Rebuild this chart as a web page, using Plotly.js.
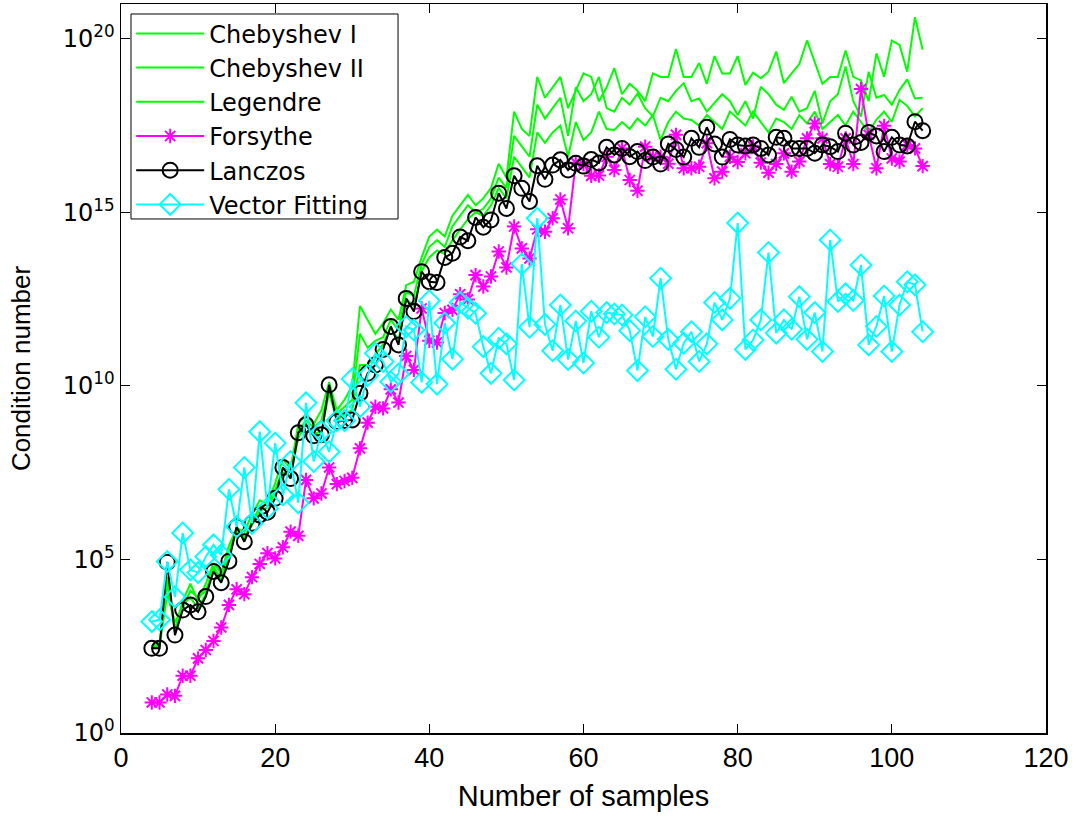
<!DOCTYPE html>
<html><head><meta charset="utf-8">
<script src="https://cdn.plot.ly/plotly-3.0.1.min.js"></script>
<style>html,body{margin:0;padding:0;background:#fff}#chart{width:1078px;height:817px}</style>
</head><body><div id="chart"></div>
<script>
// sample counts
const samplesStart = 4, samplesEnd = 104;
// log10(condition number), one value per sample count 4..104
const chebyshev1Log = [2.5,2.6,4.3,3.0,3.8,4.3,3.8,4.3,4.9,4.6,5.4,5.9,5.8,6.3,6.7,6.6,7.2,7.9,7.6,8.9,9.2,8.9,9.3,10.1,9.3,9.6,10.0,12.3,11.9,11.5,11.8,12.2,11.9,12.9,13.0,13.7,14.3,14.5,14.3,14.9,15.2,15.5,15.2,15.4,15.7,16.4,16.0,17.9,17.4,17.2,18.9,18.3,18.6,18.9,18.0,
 18.5,19.0,18.9,18.2,18.6,19.15,18.4,18.7,18.5,18.2,19.0,18.9,18.9,19.7,18.9,18.9,19.3,18.7,19.5,19.0,19.0,19.5,18.67,19.02,18.86,19.05,19.63,18.72,19.0,19.27,19.95,19.3,18.7,18.9,18.9,19.66,18.9,18.8,18.2,19.58,18.9,19.95,19.82,19.05,20.62,19.68];
const chebyshev2Log = [2.5,2.5,4.0,3.2,3.6,4.1,3.9,4.1,4.7,4.5,5.2,5.9,5.6,6.1,6.5,6.6,7.0,7.6,7.6,8.7,9.0,8.8,9.0,9.9,9.2,9.4,9.6,11.5,11.1,11.3,11.4,11.9,11.6,12.7,12.6,13.5,14.0,14.2,14.0,14.6,14.9,15.2,15.0,15.1,15.4,16.0,15.7,17.2,16.9,16.6,18.1,17.7,18.0,18.3,17.2,
 18.6,18.2,18.4,18.9,18.0,17.9,18.3,18.1,18.42,18.0,17.76,18.3,18.2,18.5,18.72,18.2,18.28,17.9,18.14,18.4,18.2,17.8,18.2,17.7,18.62,18.4,18.1,17.95,18.33,17.9,18.0,18.5,17.56,18.2,18.4,19.2,18.2,17.76,19.05,18.3,18.38,18.1,18.52,18.83,18.28,18.3];
const legendreLog = [2.45,2.5,4.5,2.9,3.7,3.9,3.6,4.0,4.8,4.4,5.1,5.8,5.6,6.0,6.4,6.5,6.9,7.5,7.4,8.5,8.9,8.6,8.7,9.8,9.0,9.2,9.3,10.6,10.6,10.9,11.2,11.7,11.3,12.5,12.3,13.3,13.7,13.9,13.8,14.2,14.5,14.8,15.0,14.9,15.2,15.7,15.4,16.6,16.3,16.0,17.3,17.0,17.3,17.5,16.6,
 17.6,17.08,17.3,17.9,17.4,17.37,17.6,17.4,17.7,17.5,17.8,17.08,17.6,17.9,17.7,17.66,17.5,17.8,17.6,17.4,17.9,17.7,17.5,17.9,17.6,17.3,17.7,17.6,17.4,17.8,17.56,17.9,17.4,17.6,17.8,17.5,17.9,17.6,17.3,17.67,17.9,17.6,18.24,18.06,17.76,18.0];
const forsytheLog = [0.88,0.88,1.11,1.07,1.65,1.65,2.15,2.39,2.65,3.04,3.69,4.14,4.00,4.49,4.87,5.18,5.03,5.35,5.80,5.68,7.29,6.76,6.90,7.65,7.17,7.26,7.35,8.20,8.94,9.40,9.35,9.90,9.52,10.86,10.46,12.23,11.30,11.25,12.10,12.19,12.64,12.49,13.19,12.86,13.15,13.87,13.41,14.59,13.96,13.67,14.51,14.44,14.83,15.37,14.54,
 16.43,16.39,16.05,16.06,16.60,16.22,16.84,15.93,15.62,16.89,16.60,16.60,16.40,17.23,16.27,16.27,16.31,16.99,15.98,16.17,16.60,16.45,16.70,16.90,16.43,16.14,16.39,16.70,16.17,16.46,17.13,17.56,17.13,16.39,16.31,17.13,16.39,18.55,17.23,16.27,17.49,16.55,16.46,16.94,16.84,16.33];
const lanczosLog = [2.44,2.44,4.92,2.82,3.54,3.69,3.49,3.93,4.65,4.33,4.95,5.94,5.51,6.04,6.28,6.36,6.76,7.65,7.33,8.65,8.88,8.56,8.59,10.03,8.97,9.00,9.02,9.79,10.36,10.60,11.05,11.71,11.18,12.52,12.14,13.29,13.00,12.98,13.70,13.82,14.29,14.18,14.85,14.57,14.78,15.55,15.11,16.05,15.69,15.31,16.34,15.95,16.36,16.51,16.22,
 16.41,16.33,16.52,16.42,16.87,16.65,16.84,16.60,16.75,16.49,16.59,16.39,16.97,16.81,16.59,17.13,16.87,17.45,16.97,16.59,17.10,16.94,16.91,16.94,16.84,16.65,17.16,17.13,16.84,16.84,16.84,16.70,16.94,16.89,16.75,17.28,16.94,17.01,17.30,17.20,16.75,17.16,16.94,16.91,17.61,17.35];
const vectorFittingLog = [3.21,3.26,4.94,3.92,5.76,4.70,4.62,5.08,5.42,5.13,7.02,5.94,7.65,6.04,8.68,6.47,8.35,6.86,7.82,6.63,9.51,7.82,8.68,8.10,9.00,9.00,10.20,9.40,10.30,10.94,10.70,10.12,10.34,11.71,11.61,10.10,12.45,10.05,11.81,10.77,12.40,12.24,12.09,11.13,10.36,11.37,11.21,10.17,13.51,11.69,14.83,11.77,11.01,12.33,10.76,
 11.87,10.66,12.15,11.40,12.11,12.07,12.04,11.59,10.44,11.99,11.42,13.10,11.34,10.48,11.23,11.56,10.70,11.21,12.40,11.90,12.52,14.69,11.05,11.32,11.90,13.84,11.52,11.90,11.63,12.57,11.34,12.11,10.99,14.20,12.43,12.65,12.46,13.48,11.18,11.71,12.59,10.99,12.33,13.00,12.91,11.56];

const seriesNames = ["Chebyshev I","Chebyshev II","Legendre","Forsythe","Lanczos","Vector Fitting"];
const xTickVals = [0,20,40,60,80,100,120];
const yTickExps = [0,5,10,15,20];

const samples = [];
for (let n = samplesStart; n <= samplesEnd; n++) samples.push(n);
const toVal = arr => arr.map(e => Math.pow(10, e));

const lineW = 2;
function mk(name, data, color, marker) {
  const t = {x: samples, y: toVal(data), name: name, type: 'scatter',
    mode: marker ? 'lines+markers' : 'lines',
    line: {color: color, width: lineW}};
  if (marker) t.marker = marker;
  return t;
}
const traces = [
  mk(seriesNames[0], chebyshev1Log, '#00ff00'),
  mk(seriesNames[1], chebyshev2Log, '#00ff00'),
  mk(seriesNames[2], legendreLog, '#00ff00'),
  mk(seriesNames[3], forsytheLog, '#ff00ff', {symbol: 'asterisk-open', size: 12, color: '#ff00ff', line: {color: '#ff00ff', width: 2}}),
  mk(seriesNames[4], lanczosLog, '#000000', {symbol: 'circle-open', size: 15, color: '#000000', line: {color: '#000000', width: 2}}),
  mk(seriesNames[5], vectorFittingLog, '#00ffff', {symbol: 'diamond-open', size: 16, color: '#00ffff', line: {color: '#00ffff', width: 2}})
];

const sans = 'Liberation Sans, Arial, sans-serif';
const layout = {
  width: 1078, height: 817,
  margin: {l: 121, r: 32, t: 4, b: 84},
  paper_bgcolor: '#fff', plot_bgcolor: '#fff',
  showlegend: true,
  font: {family: sans, size: 26, color: '#000'},
  xaxis: {
    range: [0, 120], tickvals: xTickVals, ticktext: xTickVals.map(String),
    ticks: 'inside', ticklen: 9, tickwidth: 1, tickcolor: '#000',
    showline: true, linecolor: '#000', linewidth: 1.5, mirror: 'ticks',
    showgrid: false, zeroline: false,
    tickfont: {family: sans, size: 27, color: '#000'},
    title: {text: 'Number of samples', font: {family: sans, size: 29, color: '#000'}, standoff: 14}
  },
  yaxis: {
    type: 'log', range: [0, 21],
    tickvals: yTickExps.map(e => Math.pow(10, e)),
    ticktext: yTickExps.map(e => '10<sup>' + e + '</sup>'),
    ticks: 'inside', ticklen: 9, tickwidth: 1, tickcolor: '#000',
    showline: true, linecolor: '#000', linewidth: 1.5, mirror: 'ticks',
    showgrid: false, zeroline: false,
    tickfont: {family: 'DejaVu Sans, sans-serif', size: 24, color: '#000'},
    title: {text: 'Condition number', font: {family: sans, size: 26, color: '#000'}, standoff: 24}
  },
  // legend frame (white box with black border, drawn over the traces)
  shapes: [{type: 'rect', xref: 'paper', yref: 'paper', layer: 'above',
    x0: 0.0108, x1: 0.2995, y0: 0.7051, y1: 0.9863,
    fillcolor: '#fff', line: {color: '#000', width: 1}}],
  legend: {
    x: 0.011, y: 0.99, xanchor: 'left', yanchor: 'top',
    bgcolor: 'rgba(0,0,0,0)', borderwidth: 0,
    font: {family: 'DejaVu Sans, sans-serif', size: 24, color: '#000'},
    tracegroupgap: 0, itemwidth: 68
  }
};
Plotly.newPlot('chart', traces, layout, {displayModeBar: false, staticPlot: true});
</script>
</body></html>
